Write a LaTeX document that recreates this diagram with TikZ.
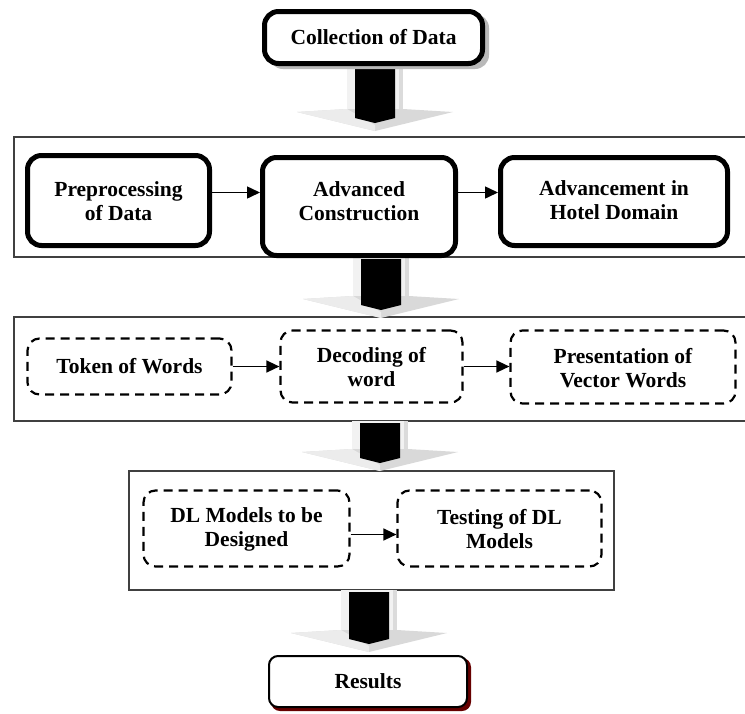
\documentclass[tikz,border=0pt]{standalone}
\usepackage{fontspec}
\setmainfont{Liberation Serif}
\usetikzlibrary{arrows.meta}
\tikzset{
  every node/.style={font=\bfseries\fontsize{21.5}{24}\selectfont, align=center},
  thickbox/.style={draw, line width=5pt, rounded corners=14pt, fill=white, inner sep=0pt},
  dashbox/.style={draw, line width=2.2pt, dash pattern=on 9pt off 6pt, rounded corners=12pt, fill=white, inner sep=0pt},
  panel/.style={draw=black!75, line width=1.1pt},
  conn/.style={line width=1.5pt, -{Triangle[length=13pt,width=12pt]}},
  lbl/.style={inner sep=0pt}
}
\newcommand\BigArr[3]{% center x, top y, tip y
  \fill[gray!10] (#1-28,#2) rectangle (#1+28,#3-17);
  \fill[gray!28] (#1+24,#2) rectangle (#1+28,#3-17);
  \fill[gray!30] (#1-78,#3-19) -- (#1-28,#3-22) -- (#1+28,#3-22) -- (#1+78,#3-19) -- (#1,#3) -- cycle;
  \fill[gray!15] (#1-78,#3-19) -- (#1-28,#3-22) -- (#1,#3-6) -- (#1,#3) -- cycle;
  \fill[black] (#1-20,#2+2) -- (#1+20,#2+2) -- (#1+20,#3-13) -- (#1,#3-8) -- (#1-20,#3-13) -- cycle;
}
\begin{document}
\begin{tikzpicture}[x=1pt,y=-1pt]
\useasboundingbox (0,0) rectangle (745,713);
% panels
\draw[panel] (14,137) rectangle (760,257);
\draw[panel] (14,317) rectangle (760,421);
\draw[panel] (129,471) rectangle (614,590);
% big arrows
\BigArr{375}{62}{131}
\BigArr{381}{257}{318}
\BigArr{380}{421}{471}
\BigArr{369}{590}{652}
% top node
\fill[gray!55] (265+4,10+4) [rounded corners=14pt] rectangle (485+4,65+4);
\node[thickbox, minimum width=218pt, minimum height=52pt] (coll) at (373.5,37.5) {Collection of Data};
% panel 1
\node[thickbox, minimum width=182pt, minimum height=90pt] (pre) at (118.5,200.5) {};
\node[lbl] (pret) at (118.5,201) {Preprocessing\\of Data};
\node[thickbox, minimum width=193pt, minimum height=98pt] (adv) at (359,206.5) {};
\node[lbl] (advt) at (359,201) {Advanced\\Construction};
\node[thickbox, minimum width=227pt, minimum height=88pt] (hot) at (614,201.5) {};
\node[lbl] (hott) at (614,200) {Advancement in\\Hotel Domain};
\draw[conn] ([yshift=8pt]pre.east) -- ([yshift=8pt]pre.east -| adv.west);
\draw[conn] ([yshift=8pt]pre.east -| adv.east) -- ([yshift=8pt]pre.east -| hot.west);
% panel 2
\node[dashbox, minimum width=204pt, minimum height=56pt] (tok) at (129.5,366.5) {Token of Words};
\node[dashbox, minimum width=182pt, minimum height=72pt] (dec) at (371.5,366.5) {};
\node[lbl] (dect) at (371.5,367) {Decoding of\\word};
\node[dashbox, minimum width=225pt, minimum height=73pt] (pres) at (623,367) {};
\node[lbl] (prest) at (623,368) {Presentation of\\Vector Words};
\draw[conn] (tok.east) -- (tok.east -| dec.west);
\draw[conn] (tok.east -| dec.east) -- (tok.east -| pres.west);
% panel 3
\node[dashbox, minimum width=206pt, minimum height=76pt] (dlm) at (246.5,528.5) {};
\node[lbl] (dlmt) at (246.5,529) {DL Models to be\\Designed};
\node[dashbox, minimum width=204pt, minimum height=76pt] (tst) at (499.5,528.5) {};
\node[lbl] (tstt) at (499.5,529) {Testing of DL\\Models};
\draw[conn] ([yshift=-6pt]dlm.east) -- ([yshift=-6pt]dlm.east -| tst.west);
% results
\fill[red!40!black] (268+3,655+3) [rounded corners=9pt] rectangle (468+3,708+3);
\node[draw, line width=2pt, rounded corners=9pt, fill=white, minimum width=198pt, minimum height=51pt, inner sep=0pt] (res) at (368,681.5) {Results};
\end{tikzpicture}
\end{document}
